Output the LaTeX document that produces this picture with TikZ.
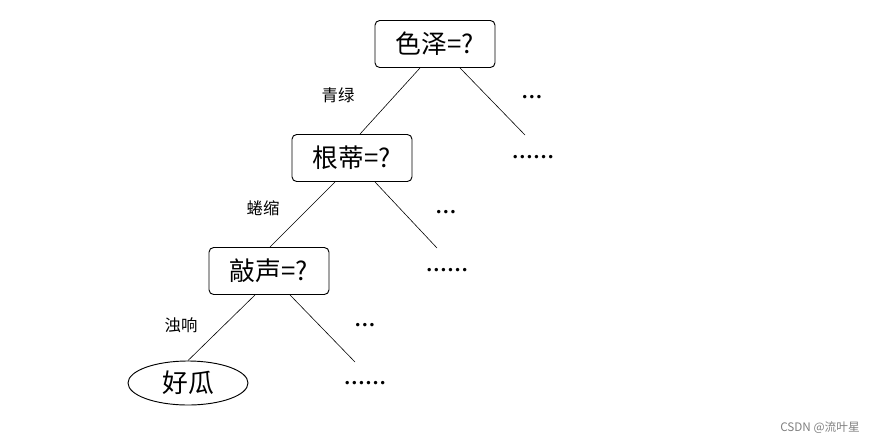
\documentclass[tikz,border=0pt]{standalone}
\usepackage{fontspec}
\setmainfont{Liberation Serif}
\newfontfamily\cjk{Noto Sans CJK SC}
\usetikzlibrary{shapes.geometric}
\begin{document}
\begin{tikzpicture}[x=0.03cm,y=-0.03cm,
  q/.style={draw,rounded corners=4pt,line width=0.8pt,minimum width=120*0.03cm,minimum height=47*0.03cm,font=\cjk\fontsize{22}{24}\selectfont,inner sep=0pt},
  leaf/.style={draw,ellipse,line width=0.8pt,minimum width=120*0.03cm,minimum height=44*0.03cm,font=\cjk\fontsize{22}{24}\selectfont,inner sep=0pt},
  lab/.style={font=\cjk\fontsize{14}{16}\selectfont},
  dots/.style={font=\fontsize{18}{20}\selectfont},
  edge/.style={line width=0.5pt}]
\useasboundingbox (0,0) rectangle (881,444);
\node[q] (n1) at (435,44) {色泽=?};
\node[q] (n2) at (352,158) {根蒂=?};
\node[q] (n3) at (269,271) {敲声=?};
\node[leaf] (n4) at (188,383) {好瓜};
\coordinate (r1) at (525,135);
\coordinate (r2) at (437,248);
\coordinate (r3) at (355,362);
\draw[edge] (n1.south)++(-15,0) -- ([xshift=8*0.03cm]n2.north);
\draw[edge] ([xshift=25*0.03cm]n1.south) -- (r1);
\draw[edge] ([xshift=-17*0.03cm]n2.south) -- ([xshift=1*0.03cm]n3.north);
\draw[edge] ([xshift=23*0.03cm]n2.south) -- (r2);
\draw[edge] ([xshift=-14*0.03cm]n3.south) -- (n4.north);
\draw[edge] ([xshift=21*0.03cm]n3.south) -- (r3);
\node[lab] (l1) at (338,95) {青绿};
\node[lab] (l2) at (263,208) {蜷缩};
\node[lab] (l3) at (181,325) {浊响};
\node[dots] (d1) at (532,97) {\textbf{…}};
\node[dots] (d2) at (533,157) {\textbf{……}};
\node[dots] (d3) at (446,212) {\textbf{…}};
\node[dots] (d4) at (447,270) {\textbf{……}};
\node[dots] (d5) at (365,325) {\textbf{…}};
\node[dots] (d6) at (365,383) {\textbf{……}};
\node[font=\cjk\fontsize{10}{12}\selectfont,text=gray] (wm) at (820,428) {CSDN @流叶星};
\end{tikzpicture}
\end{document}
